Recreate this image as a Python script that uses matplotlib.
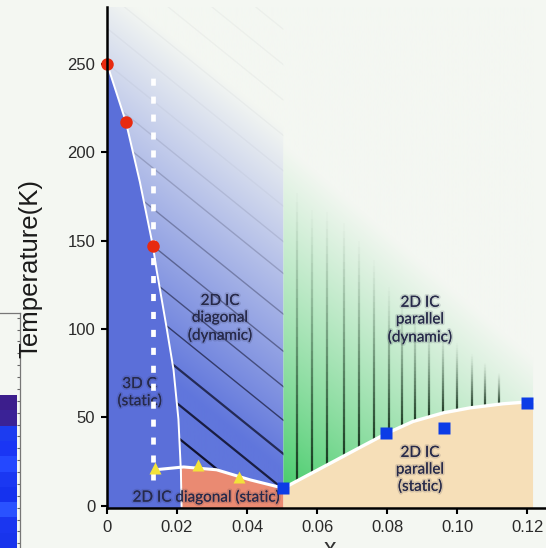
import numpy as np
import matplotlib.pyplot as plt
from matplotlib import patheffects as pe
from matplotlib.collections import LineCollection
from matplotlib.colors import to_rgb

BG = '#f4f7f2'

# 3D C / 2D IC diagonal (dynamic) boundary
bound_x = [0, 0.0054, 0.0094, 0.0131, 0.0142, 0.0170, 0.0190, 0.0204, 0.0211, 0.0213]
bound_t = [250, 217, 183, 147, 133, 101, 77, 49, 20, 0]
# 2D IC diagonal (static) boundary
diag_x = [0.0137, 0.0219, 0.0313, 0.0409, 0.0504]
diag_t = [20.4, 22.0, 20.4, 14.7, 10.0]
# 2D IC parallel (static) boundary
par_x = [0.0504, 0.0580, 0.0656, 0.0727, 0.0799, 0.0874, 0.0961, 0.1037, 0.1131, 0.1217]
par_t = [10, 18, 26, 33.5, 41, 47.7, 52.6, 55.4, 57.7, 59]

# measured points
circ_x = [0, 0.0054, 0.0131]
circ_t = [250, 217, 147]
tri_x = [0.0137, 0.0261, 0.0378]
tri_t = [21.5, 23.2, 16.6]
sq_x = [0.0504, 0.0797, 0.0963, 0.1199]
sq_t = [10, 41, 44, 58]

# hatching of the dynamic phases
hatch_t = [-9, 10, 30, 49, 68, 88, 109, 132, 150, 170, 190, 210, 230, 250, 270]
vline_x = [0.0542, 0.0585, 0.0628, 0.0676, 0.0719, 0.0762, 0.0805, 0.0842,
           0.0880, 0.0921, 0.0961, 0.1001, 0.1042, 0.1080, 0.1121]
vline_top = [177, 167, 166, 160, 150, 139, 124, 116, 109, 101, 98, 92, 86, 81, 75]

x_ticks = [0, 0.02, 0.04, 0.06, 0.08, 0.10, 0.12]
x_labels = ['0', '0.02', '0.04', '0.06', '0.08', '0.10', '0.12']
t_ticks = [0, 50, 100, 150, 200, 250]

# strip of the neighbouring panel (colours top to bottom)
side_colors = ['#3c1e8c', '#3a2296', '#1c3cf0', '#1a36f4', '#2448ff',
               '#1a38f2', '#1532ee', '#2a52ff', '#1a36f0', '#1834ec']

XMAX, YMIN, YMAX = 0.1254, -1.2, 282
SLOPE = -1600
X_EDGE = 0.0504

fig = plt.figure(figsize=(5.46, 5.48), dpi=100, facecolor=BG)
ax = fig.add_axes([107 / 546, 40 / 548, 1 - 107 / 546, 501 / 548])
ax.set_facecolor(BG)
ax.set_xlim(0, XMAX)
ax.set_ylim(YMIN, YMAX)

# regions
ax.fill([0] + bound_x + [bound_x[-1]], [YMIN] + bound_t + [YMIN],
        color='#5b6fd9', lw=0, zorder=1)

keep = [i for i, x in enumerate(diag_x) if x > bound_x[-1]]
dyn_x = [0, X_EDGE] + [diag_x[i] for i in keep[::-1]] + bound_x[::-1][1:]
dyn_t = [YMAX, YMAX] + [diag_t[i] for i in keep[::-1]] + bound_t[::-1][1:]
dyn = ax.fill(dyn_x, dyn_t, color='none', lw=0)[0]

s0 = np.interp(bound_x[-1], diag_x, diag_t)
sx = [bound_x[-1], bound_x[-1]] + [diag_x[i] for i in keep] + [X_EDGE]
st = [YMIN, s0] + [diag_t[i] for i in keep] + [YMIN]
ax.fill(sx, st, color='#ea8a72', lw=0, zorder=1)

ax.fill([par_x[0]] + par_x + [par_x[-1]], [YMIN] + par_t + [YMIN],
        color='#f6dfb8', lw=0, zorder=1)
grn = ax.fill(par_x + [par_x[-1], par_x[0]], par_t + [YMAX, YMAX],
              color='none', lw=0)[0]

# gradients
gx = np.linspace(0, XMAX, 500)
gy = np.linspace(YMIN, YMAX, 500)
GX, GY = np.meshgrid(gx, gy)
bg = np.array(to_rgb(BG))

f = np.clip((GY - SLOPE * GX - 100) / 195, 0, 1)
img = np.array(to_rgb('#6076dc')) * (1 - f[..., None]) + bg * f[..., None]
im = ax.imshow(img, extent=(0, XMAX, YMIN, YMAX), origin='lower', aspect='auto', zorder=0.5)
im.set_clip_path(dyn)

g = np.clip((GY + 1700 * (GX - X_EDGE)) / 205, 0, 1) ** 0.8
img2 = np.array(to_rgb('#36c85e')) * (1 - g[..., None]) + bg * g[..., None]
im2 = ax.imshow(img2, extent=(0, XMAX, YMIN, YMAX), origin='lower', aspect='auto', zorder=0.5)
im2.set_clip_path(grn)

# diagonal hatching
for c in hatch_t:
    a = max(0.92 - 0.0052 * (c + 9), 0.03)
    lw = 1.6 if c < 40 else 1.0
    ln, = ax.plot([0, X_EDGE], [c + SLOPE * (0 - 0.05), c + SLOPE * (X_EDGE - 0.05)],
                  color='#0a0a20', alpha=a, lw=lw, zorder=2)
    ln.set_clip_path(dyn)

# vertical hatching (fading upward)
segs, cols = [], []
for x, top in zip(vline_x, vline_top):
    b = np.interp(x, par_x, par_t)
    ys = np.linspace(b, top, 31)
    for i in range(30):
        segs.append([(x, ys[i]), (x, ys[i + 1])])
        cols.append((0.08, 0.18, 0.1, 0.9 * (1 - i / 30) ** 1.3))
ax.add_collection(LineCollection(segs, colors=cols, linewidths=1.6, zorder=2))

# boundaries
ax.plot(bound_x, bound_t, color='white', lw=1.4, zorder=3)
ax.plot(diag_x, diag_t, color='white', lw=2.2, zorder=3)
ax.plot(par_x, par_t, color='white', lw=2.4, zorder=3)

# labels
shadow = [pe.withStroke(linewidth=2.5, foreground=(0.15, 0.15, 0.25, 0.15))]
lab = dict(fontsize=11, family='Lato', color='#272a4a', ha='center', va='center',
           linespacing=1.25, path_effects=shadow, zorder=4)
ax.text(0.0093, 64, '3D C\n(static)', **lab)
ax.text(0.0323, 106, '2D IC\ndiagonal\n(dynamic)', **lab)
ax.text(0.0283, 5, '2D IC diagonal (static)', **lab)
ax.text(0.0894, 105, '2D IC\nparallel\n(dynamic)', **lab)
ax.text(0.0894, 20.4, '2D IC\nparallel\n(static)', **lab)

ax.plot([0.0131, 0.0131], [14.7, 242.6], color='white', lw=3.4,
        linestyle=(0, (1.5, 2.3)), zorder=5)

ax.plot(circ_x, circ_t, 'o', color='#e82a10', ms=9, mec='none', zorder=6, clip_on=False)
ax.plot(tri_x, tri_t, '^', color='#f2e23a', ms=9, mec='none', zorder=6)
ax.plot(sq_x, sq_t, 's', color='#0c3ce6', ms=8, mec='none', zorder=6)

# axes styling
for side in ['top', 'right']:
    ax.spines[side].set_visible(False)
for side in ['left', 'bottom']:
    ax.spines[side].set_linewidth(1.8)
    ax.spines[side].set_zorder(7)
ax.set_xticks(x_ticks)
ax.set_xticklabels(x_labels)
ax.set_yticks(t_ticks)
ax.tick_params(length=4.5, width=1.5, pad=4, labelsize=12, labelcolor='#2a2a2a')
for lbl in ax.get_xticklabels() + ax.get_yticklabels():
    lbl.set_family('Liberation Sans')

fig.text(30 / 546, 1 - 268 / 548, 'Temperature(K)', rotation=90, fontsize=18.5,
         family='Liberation Sans', color='#1a1a1a', ha='center', va='center')
fig.text(330 / 546, -8 / 548, 'x', fontsize=18, family='Liberation Sans',
         color='#333333', ha='center', va='baseline')

# fragment of the neighbouring panel on the left
sax = fig.add_axes([-0.01, 0, 25 / 546, (548 - 313) / 548])
sax.set_facecolor(BG)
side_rgb = np.array([to_rgb(c) for c in side_colors])[::-1][:, None, :]
sax.imshow(side_rgb, extent=(0, 0.85, 0, 0.65), aspect='auto', origin='lower')
sax.set_xlim(0, 1)
sax.set_ylim(0, 1)
sax.yaxis.tick_right()
sax.set_yticks(np.linspace(0.02, 0.98, 20))
sax.tick_params(axis='y', direction='in', length=2.5, width=0.8, labelright=False,
                colors='#666666')
sax.set_xticks([])
for sp in sax.spines.values():
    sp.set_color('#777777')
    sp.set_linewidth(0.9)
sax.spines['bottom'].set_visible(False)

fig.savefig('out.png', dpi=100, facecolor=BG)
